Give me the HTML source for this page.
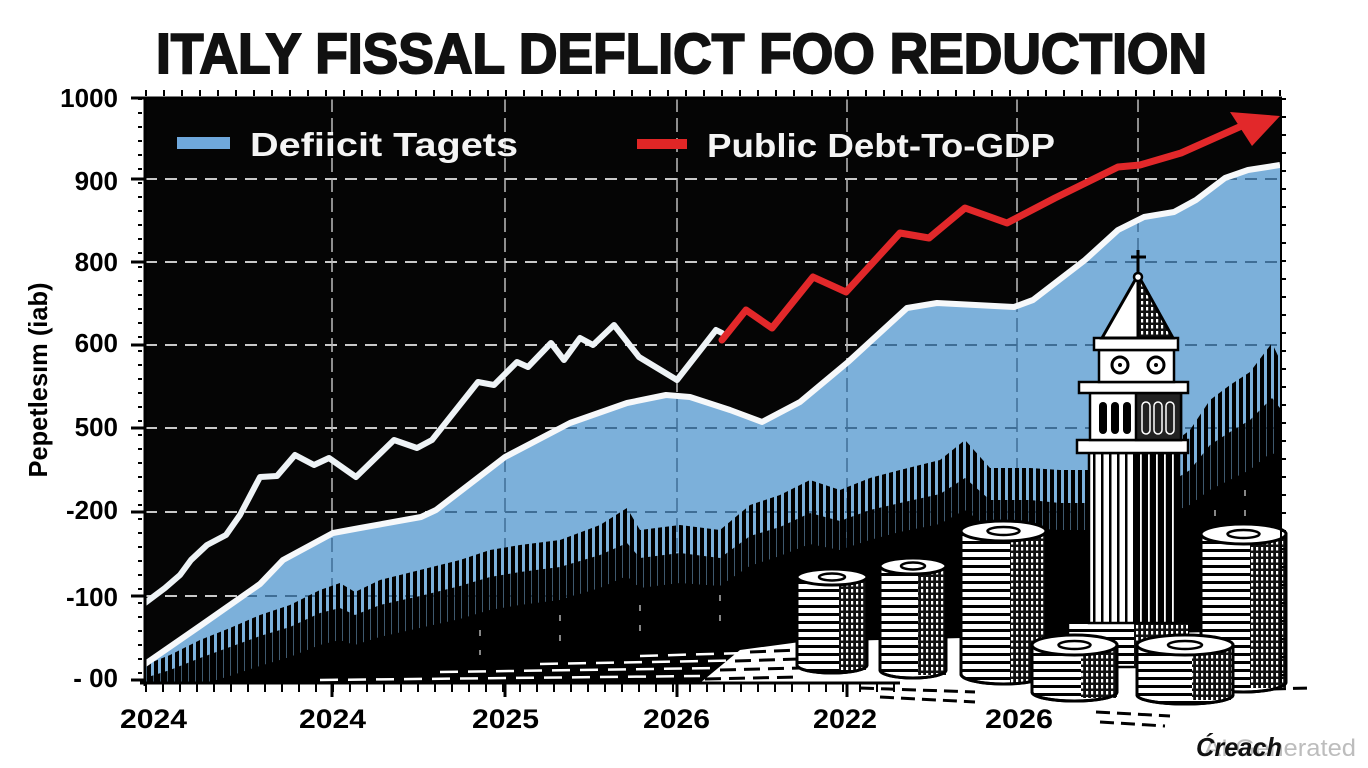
<!DOCTYPE html>
<html><head><meta charset="utf-8"><style>
html,body{margin:0;padding:0;background:#fff;}
svg{display:block;}
</style></head><body>
<svg width="1368" height="768" viewBox="0 0 1368 768" xmlns="http://www.w3.org/2000/svg">
<defs>
<clipPath id="plot"><rect x="145" y="98" width="1135" height="585"/></clipPath>
<clipPath id="blueclip"><path d="M145,664 L200,626 L260,584 L283,560 L333,533 L360,528 L421,517 L436,510 L505,457 L570,423 L627,403 L666,395 L690,397 L730,410 L762,422 L800,402 L848,362 L907,308 L937,303 L1014,307 L1033,300 L1085,260 L1118,230 L1144,217 L1174,212 L1196,200 L1225,178 L1248,170 L1280,165 L1280,683 L145,683 Z"/></clipPath>
<pattern id="sp" width="7" height="10" patternUnits="userSpaceOnUse"><rect x="0" y="0" width="4" height="10" fill="#000"/></pattern>
<pattern id="sp2" width="7" height="10" patternUnits="userSpaceOnUse" x="3.5"><rect x="0" y="0" width="3" height="10" fill="#000"/></pattern>
<pattern id="hl" width="20" height="8" patternUnits="userSpaceOnUse"><rect width="20" height="8" fill="#fff"/><rect y="5" width="20" height="3" fill="#000"/></pattern>
<pattern id="dg" width="5" height="6" patternUnits="userSpaceOnUse"><rect width="5" height="6" fill="#111"/><rect x="1" y="1" width="2.2" height="3.5" fill="#fff"/></pattern>
<pattern id="vl" width="8" height="10" patternUnits="userSpaceOnUse"><rect width="8" height="10" fill="#fff"/><rect x="5" width="2.5" height="10" fill="#000"/></pattern>
<pattern id="vd" width="8" height="10" patternUnits="userSpaceOnUse"><rect width="8" height="10" fill="#000"/><rect x="4" width="1.8" height="10" fill="#fff"/></pattern>
</defs>

<rect width="1368" height="768" fill="#fff"/>
<rect x="145" y="98" width="1135" height="585" fill="#050505"/>

<g stroke="#c9c9c9" stroke-width="2" stroke-dasharray="12 8" fill="none">
<line x1="145" y1="179" x2="1280" y2="179"/>
<line x1="145" y1="262" x2="1280" y2="262"/>
<line x1="145" y1="345" x2="1280" y2="345"/>
<line x1="145" y1="428" x2="1280" y2="428"/>
<line x1="145" y1="512" x2="1280" y2="512"/>
<line x1="145" y1="596" x2="1280" y2="596"/>
</g>
<g stroke="#bdbdbd" stroke-width="1.5" stroke-dasharray="14 6" fill="none">
<line x1="332" y1="98" x2="332" y2="683"/>
<line x1="505" y1="98" x2="505" y2="683"/>
<line x1="677" y1="98" x2="677" y2="683"/>
<line x1="847" y1="98" x2="847" y2="683"/>
<line x1="1017" y1="98" x2="1017" y2="683"/>
<line x1="1138" y1="98" x2="1138" y2="683"/>
</g>

<path d="M145,664 L200,626 L260,584 L283,560 L333,533 L360,528 L421,517 L436,510 L505,457 L570,423 L627,403 L666,395 L690,397 L730,410 L762,422 L800,402 L848,362 L907,308 L937,303 L1014,307 L1033,300 L1085,260 L1118,230 L1144,217 L1174,212 L1196,200 L1225,178 L1248,170 L1280,165 L1280,683 L145,683 Z" fill="#7cb0da"/>

<g clip-path="url(#blueclip)" fill="none">
<g stroke="#3f6e96" stroke-width="2" stroke-dasharray="12 8">
<line x1="145" y1="179" x2="1280" y2="179"/>
<line x1="145" y1="262" x2="1280" y2="262"/>
<line x1="145" y1="345" x2="1280" y2="345"/>
<line x1="145" y1="428" x2="1280" y2="428"/>
<line x1="145" y1="512" x2="1280" y2="512"/>
<line x1="145" y1="596" x2="1280" y2="596"/>
</g>
<g stroke="#3f6e96" stroke-width="1.5" stroke-dasharray="14 6">
<line x1="332" y1="98" x2="332" y2="683"/>
<line x1="505" y1="98" x2="505" y2="683"/>
<line x1="677" y1="98" x2="677" y2="683"/>
<line x1="847" y1="98" x2="847" y2="683"/>
<line x1="1017" y1="98" x2="1017" y2="683"/>
<line x1="1138" y1="98" x2="1138" y2="683"/>
</g>
</g>

<g clip-path="url(#plot)">
<path d="M145,665 L170,655 L200,640 L230,628 L260,615 L290,605 L320,590 L340,583 L355,592 L380,580 L420,570 L460,560 L490,550 L520,545 L560,540 L600,525 L627,508 L640,530 L680,525 L720,530 L750,505 L780,495 L810,480 L840,490 L870,478 L900,470 L940,460 L965,440 L990,468 L1030,468 L1060,470 L1100,470 L1150,460 L1190,430 L1210,400 L1230,385 L1250,372 L1272,343 L1280,360 L1280,683 L145,683 Z" fill="url(#sp)"/>
<path d="M145,678 L170,670 L200,658 L230,647 L260,636 L290,627 L320,613 L340,608 L355,615 L380,605 L420,596 L460,586 L490,577 L520,572 L560,567 L600,555 L627,543 L640,558 L680,553 L720,558 L750,536 L780,527 L810,513 L840,521 L870,510 L900,503 L940,494 L965,478 L990,500 L1030,500 L1060,503 L1100,503 L1150,495 L1190,470 L1210,445 L1230,432 L1250,420 L1272,398 L1280,408 L1280,683 L145,683 Z" fill="url(#sp2)"/>
<path d="M145,700 L170,695 L200,685 L230,676 L260,666 L290,657 L320,645 L340,640 L355,645 L380,637 L420,628 L460,619 L490,610 L520,605 L560,600 L600,588 L627,576 L640,588 L680,583 L720,586 L750,566 L780,556 L810,544 L840,550 L870,540 L900,532 L940,524 L965,510 L990,528 L1030,528 L1060,530 L1100,530 L1150,522 L1190,505 L1210,490 L1230,480 L1250,470 L1272,452 L1280,460 L1280,683 L145,683 Z" fill="#000"/>
<g stroke="#fff" stroke-width="1.5" stroke-dasharray="6 14" opacity="0.7">
<line x1="480" y1="630" x2="480" y2="655"/>
<line x1="560" y1="615" x2="560" y2="648"/>
<line x1="640" y1="605" x2="640" y2="640"/>
<line x1="720" y1="595" x2="720" y2="630"/>
<line x1="1215" y1="510" x2="1215" y2="560"/>
<line x1="1245" y1="490" x2="1245" y2="550"/>
</g>
<g stroke="#fff" stroke-width="2.5" stroke-dasharray="18 10" fill="none">
<line x1="320" y1="680" x2="700" y2="676"/>
<line x1="440" y1="672" x2="720" y2="668"/>
<line x1="540" y1="664" x2="760" y2="660"/>
<line x1="640" y1="656" x2="780" y2="652"/>
</g>
<path d="M700,683 L740,650 L800,642 L1290,630 L1290,683 Z" fill="#fff"/>
<g stroke="#000" stroke-width="3" stroke-dasharray="16 8" fill="none">
<line x1="705" y1="679" x2="800" y2="677"/>
<line x1="720" y1="670" x2="800" y2="668"/>
<line x1="735" y1="661" x2="800" y2="659"/>
<line x1="750" y1="652" x2="800" y2="650"/>
</g>
</g>
<g stroke="#000" stroke-width="3" stroke-dasharray="14 7" fill="none">
<line x1="860" y1="688" x2="975" y2="692"/>
<line x1="880" y1="697" x2="975" y2="702"/>
<line x1="1096" y1="712" x2="1170" y2="716"/>
<line x1="1100" y1="722" x2="1165" y2="726"/>
<line x1="1230" y1="690" x2="1310" y2="688"/>
</g>

<path d="M145,664 L200,626 L260,584 L283,560 L333,533 L360,528 L421,517 L436,510 L505,457 L570,423 L627,403 L666,395 L690,397 L730,410 L762,422 L800,402 L848,362 L907,308 L937,303 L1014,307 L1033,300 L1085,260 L1118,230 L1144,217 L1174,212 L1196,200 L1225,178 L1248,170 L1280,165" fill="none" stroke="#f6f8fa" stroke-width="6" stroke-linejoin="round" clip-path="url(#plot)"/>

<path d="M145,603 L165,588 L180,575 L191,560 L207,545 L226,535 L240,515 L260,477 L277,476 L295,455 L314,465 L329,458 L356,477 L394,440 L417,448 L432,440 L478,382 L494,385 L517,362 L528,367 L551,343 L564,360 L580,338 L593,345 L614,325 L639,357 L677,380 L716,330 L722,333" fill="none" stroke="#eef3f6" stroke-width="6" stroke-linejoin="round" stroke-linecap="round" clip-path="url(#plot)"/>

<path d="M722,340 L746,310 L772,328 L813,277 L846,292 L900,233 L929,238 L965,208 L1007,223 L1055,198 L1118,167 L1140,165 L1181,153 L1246,124" fill="none" stroke="#e2282a" stroke-width="7" stroke-linejoin="round" stroke-linecap="round"/>
<polygon points="1230,112 1280,116 1252,146" fill="#e2282a"/>

<rect x="177" y="137" width="53" height="12" fill="#6fa8dc"/>
<text x="250" y="156" font-family="Liberation Sans, sans-serif" font-size="33" font-weight="bold" fill="#f4f4f4" textLength="268" lengthAdjust="spacingAndGlyphs">Defiicit Tagets</text>
<rect x="637" y="139" width="50" height="10" fill="#e02626"/>
<text x="707" y="157" font-family="Liberation Sans, sans-serif" font-size="33" font-weight="bold" fill="#f4f4f4" textLength="348" lengthAdjust="spacingAndGlyphs">Public Debt-To-GDP</text>

<g stroke="#000" stroke-width="3">
<path d="M797,577 L797,665 A35,8 0 0 0 867,665 L867,577 Z" fill="url(#hl)"/>
<rect x="839" y="580" width="28" height="90" fill="url(#dg)" stroke="none"/>
<path d="M797,577 L797,665 A35,8 0 0 0 867,665 L867,577" fill="none"/>
<ellipse cx="832" cy="577" rx="35" ry="8" fill="#fff"/>
<ellipse cx="832" cy="577" rx="13" ry="3.5" fill="none" stroke-width="2.5"/>
<path d="M880,566 L880,670 A33,8 0 0 0 946,670 L946,566 Z" fill="url(#hl)"/>
<rect x="918" y="569" width="28" height="106" fill="url(#dg)" stroke="none"/>
<path d="M880,566 L880,670 A33,8 0 0 0 946,670 L946,566" fill="none"/>
<ellipse cx="913" cy="566" rx="33" ry="8" fill="#fff"/>
<ellipse cx="913" cy="566" rx="12" ry="3.5" fill="none" stroke-width="2.5"/>
<path d="M961,531 L961,674 A42.5,10 0 0 0 1046,674 L1046,531 Z" fill="url(#hl)"/>
<rect x="1010" y="535" width="36" height="148" fill="url(#dg)" stroke="none"/>
<path d="M961,531 L961,674 A42.5,10 0 0 0 1046,674 L1046,531" fill="none"/>
<ellipse cx="1003.5" cy="531" rx="42.5" ry="10" fill="#fff"/>
<ellipse cx="1003.5" cy="531" rx="16" ry="4" fill="none" stroke-width="2.5"/>
<path d="M1201,534 L1201,682 A42.5,10 0 0 0 1286,682 L1286,534 Z" fill="url(#hl)"/>
<rect x="1250" y="538" width="36" height="150" fill="url(#dg)" stroke="none"/>
<path d="M1201,534 L1201,682 A42.5,10 0 0 0 1286,682 L1286,534" fill="none"/>
<ellipse cx="1243.5" cy="534" rx="42.5" ry="10" fill="#fff"/>
<ellipse cx="1243.5" cy="534" rx="16" ry="4" fill="none" stroke-width="2.5"/>
</g>

<g stroke="#000" stroke-width="2.5">
<rect x="1068" y="622" width="120" height="45" fill="url(#hl)"/>
<rect x="1134" y="624" width="54" height="43" fill="url(#dg)" stroke="none"/>
<rect x="1089" y="453" width="46" height="170" fill="url(#vl)"/>
<rect x="1135" y="453" width="44" height="170" fill="url(#vd)"/>
<rect x="1077" y="440" width="111" height="13" fill="#fff"/>
<rect x="1090" y="393" width="91" height="47" fill="#fff"/>
<rect x="1136" y="393" width="45" height="47" fill="#222"/>
<g fill="#000" stroke="none">
<rect x="1099" y="402" width="8" height="32" rx="4"/>
<rect x="1111" y="402" width="8" height="32" rx="4"/>
<rect x="1123" y="402" width="8" height="32" rx="4"/>
</g>
<g fill="none" stroke="#fff" stroke-width="1.5">
<rect x="1142" y="402" width="8" height="32" rx="4"/>
<rect x="1154" y="402" width="8" height="32" rx="4"/>
<rect x="1166" y="402" width="8" height="32" rx="4"/>
</g>
<rect x="1079" y="382" width="109" height="11" fill="#fff"/>
<rect x="1099" y="350" width="75" height="32" fill="#fff"/>
<circle cx="1120" cy="365" r="8" fill="#fff" stroke-width="3"/>
<circle cx="1156" cy="365" r="8" fill="#fff" stroke-width="3"/>
<circle cx="1120" cy="365" r="2" fill="#000" stroke="none"/>
<circle cx="1156" cy="365" r="2" fill="#000" stroke="none"/>
<rect x="1094" y="338" width="84" height="12" fill="#fff"/>
<polygon points="1138,275 1102,338 1138,338" fill="#fff" stroke-width="3"/>
<polygon points="1138,275 1173,338 1138,338" fill="url(#dg)" stroke-width="3"/>
<circle cx="1138" cy="277" r="4" fill="#fff"/>
<line x1="1138" y1="250" x2="1138" y2="273" stroke-width="3"/>
<line x1="1131" y1="257" x2="1146" y2="257" stroke-width="3"/>
</g>

<g stroke="#000" stroke-width="3">
<path d="M1032,645 L1032,692 A42.5,9 0 0 0 1117,692 L1117,645 Z" fill="url(#hl)"/>
<rect x="1081" y="648" width="36" height="50" fill="url(#dg)" stroke="none"/>
<path d="M1032,645 L1032,692 A42.5,9 0 0 0 1117,692 L1117,645" fill="none"/>
<ellipse cx="1074.5" cy="645" rx="42.5" ry="10" fill="#fff"/>
<ellipse cx="1074.5" cy="645" rx="16" ry="4" fill="none" stroke-width="2.5"/>
<path d="M1137,645 L1137,695 A48,9 0 0 0 1233,695 L1233,645 Z" fill="url(#hl)"/>
<rect x="1192" y="648" width="41" height="52" fill="url(#dg)" stroke="none"/>
<path d="M1137,645 L1137,695 A48,9 0 0 0 1233,695 L1233,645" fill="none"/>
<ellipse cx="1185" cy="645" rx="48" ry="10" fill="#fff"/>
<ellipse cx="1185" cy="645" rx="17" ry="4" fill="none" stroke-width="2.5"/>
</g>

<g stroke="#000" fill="none">
<line x1="145" y1="98" x2="1282" y2="98" stroke-width="3"/>
<line x1="145" y1="93" x2="1282" y2="93" stroke-width="6" stroke-dasharray="2 16"/>
<line x1="145" y1="98" x2="145" y2="686" stroke-width="3"/>
<line x1="140" y1="98" x2="140" y2="683" stroke-width="4" stroke-dasharray="2 12"/>
<line x1="1281" y1="98" x2="1281" y2="683" stroke-width="2"/>
<line x1="1284" y1="98" x2="1284" y2="683" stroke-width="4" stroke-dasharray="2 16"/>
<line x1="140" y1="683" x2="900" y2="683" stroke-width="3"/>
<line x1="145" y1="688" x2="900" y2="688" stroke-width="8" stroke-dasharray="2 15"/>
<g stroke-width="3">
<line x1="131" y1="98" x2="145" y2="98"/>
<line x1="131" y1="179" x2="145" y2="179"/>
<line x1="131" y1="262" x2="145" y2="262"/>
<line x1="131" y1="345" x2="145" y2="345"/>
<line x1="131" y1="428" x2="145" y2="428"/>
<line x1="131" y1="512" x2="145" y2="512"/>
<line x1="131" y1="596" x2="145" y2="596"/>
<line x1="131" y1="680" x2="145" y2="680"/>
<line x1="332" y1="683" x2="332" y2="697"/>
<line x1="505" y1="683" x2="505" y2="697"/>
<line x1="677" y1="683" x2="677" y2="697"/>
<line x1="847" y1="683" x2="847" y2="697"/>
</g>
</g>

<g font-family="Liberation Sans, sans-serif" font-size="26" font-weight="bold" fill="#000" text-anchor="end">
<text x="118" y="107">1000</text>
<text x="118" y="190">900</text>
<text x="118" y="271">800</text>
<text x="118" y="352">600</text>
<text x="118" y="436">500</text>
<text x="118" y="519">-200</text>
<text x="118" y="606">-100</text>
<text x="118" y="687">- 00</text>
</g>

<g font-family="Liberation Sans, sans-serif" font-size="27" font-weight="bold" fill="#000">
<text x="120" y="728" textLength="67" lengthAdjust="spacingAndGlyphs">2024</text>
<text x="299" y="728" textLength="67" lengthAdjust="spacingAndGlyphs">2024</text>
<text x="472" y="728" textLength="67" lengthAdjust="spacingAndGlyphs">2025</text>
<text x="643" y="728" textLength="67" lengthAdjust="spacingAndGlyphs">2026</text>
<text x="813" y="728" textLength="64" lengthAdjust="spacingAndGlyphs">2022</text>
<text x="985" y="728" textLength="68" lengthAdjust="spacingAndGlyphs">2026</text>
</g>

<text transform="translate(47,380) rotate(-90)" text-anchor="middle" font-family="Liberation Sans, sans-serif" font-size="26" font-weight="bold" fill="#000" textLength="195" lengthAdjust="spacingAndGlyphs">Pepetlesım (iab)</text>

<text x="156" y="73" font-family="Liberation Sans, sans-serif" font-size="57" font-weight="bold" fill="#111" stroke="#111" stroke-width="2" textLength="1051" lengthAdjust="spacingAndGlyphs">ITALY FISSAL DEFLICT FOO REDUCTION</text>

<text x="1204" y="756" font-family="Liberation Sans, sans-serif" font-size="24" fill="#bdbdbd" textLength="152" lengthAdjust="spacingAndGlyphs">AI Generated</text>
<text x="1196" y="756" font-family="Liberation Sans, sans-serif" font-size="26" font-style="italic" font-weight="bold" fill="#111" textLength="86" lengthAdjust="spacingAndGlyphs">Ćreach</text>
</svg>
</body></html>
